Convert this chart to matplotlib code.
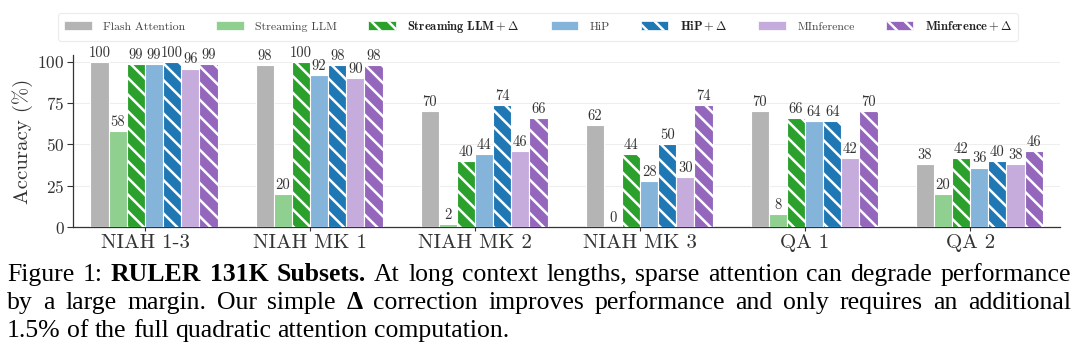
import numpy as np
import matplotlib
matplotlib.use('Agg')
from matplotlib import pyplot as plt
from matplotlib.patches import Patch

plt.rcParams['font.family'] = 'serif'
plt.rcParams['font.serif'] = ['cmr10']
plt.rcParams['mathtext.fontset'] = 'cm'
plt.rcParams['axes.formatter.use_mathtext'] = True
plt.rcParams['hatch.linewidth'] = 1.8

# ---------------- data (RULER 131K subsets) ----------------
subsets = ['NIAH 1-3', 'NIAH MK 1', 'NIAH MK 2', 'NIAH MK 3', 'QA 1', 'QA 2']
flash            = [100, 98, 70, 62, 70, 38]
streaming        = [58, 20, 2, 0, 8, 20]
streaming_delta  = [99, 100, 40, 44, 66, 42]
hip              = [99, 92, 44, 28, 64, 36]
hip_delta        = [100, 98, 74, 50, 64, 40]
minference       = [96, 90, 46, 30, 42, 38]
minference_delta = [99, 98, 66, 74, 70, 46]

methods = ['Flash Attention', 'Streaming LLM', r'$\mathbf{Streaming\ LLM + \Delta}$',
           'HiP', r'$\mathbf{HiP + \Delta}$', 'MInference', r'$\mathbf{Minference + \Delta}$']
series = [flash, streaming, streaming_delta, hip, hip_delta, minference, minference_delta]
colors = ['#b4b4b4', '#8fcf8f', '#2ca02c', '#85b4da', '#1f77b4', '#c6acdd', '#9467bd']
hatches = ['', '', '\\\\', '', '\\\\', '', '\\\\']

fig = plt.figure(figsize=(10.8, 3.62), dpi=100)
ax = fig.add_axes([73/1080, 1-227/362, (1060-73)/1080, (227-55)/362])

x = np.arange(len(subsets))
w = 0.11
for i, (vals, c, h) in enumerate(zip(series, colors, hatches)):
    bars = ax.bar(x + (i - 3) * w, vals, w, align='edge', color=c, hatch=h,
                  edgecolor='white', linewidth=0.8, zorder=3)
    ax.bar_label(bars, labels=[str(v) for v in vals], padding=1.5,
                 fontsize=10.5, color='#333333', zorder=4)

ax.set_xlim(-0.436, 5.545)
ax.set_ylim(0, 104.2)
ax.set_yticks([0, 25, 50, 75, 100])
ax.set_xticks(x)
ax.set_xticklabels(subsets, fontsize=15, color='#222222')
ax.tick_params(axis='y', labelsize=12.5, colors='#333333', length=4, width=0.8, pad=2)
ax.tick_params(axis='x', length=3, width=0.8, colors='#333333', pad=2)
ax.set_ylabel('Accuracy (%)', fontsize=15, color='#333333', labelpad=3)
ax.grid(axis='y', color='#eeeeee', linewidth=0.8, zorder=0)
for s in ['top', 'right']:
    ax.spines[s].set_visible(False)
for s in ['left', 'bottom']:
    ax.spines[s].set_color('#333333')
    ax.spines[s].set_linewidth(0.9)

handles = [Patch(facecolor=c, hatch=h, edgecolor='white', linewidth=0.5)
           for c, h in zip(colors, hatches)]
leg = fig.legend(handles, methods, loc='upper center', ncol=7,
                 bbox_to_anchor=(538/1080, 1 - 7/362), fontsize=9,
                 frameon=True, edgecolor='#e6e6e6', fancybox=True,
                 handlelength=2.2, handleheight=0.65, columnspacing=2.5,
                 handletextpad=0.9, borderpad=0.45)
leg.get_frame().set_linewidth(0.8)
for t in leg.get_texts():
    t.set_color('#222222')
    if '$' not in t.get_text():
        t.set_fontsize(8.5)
        t.set_color('#444444')

# ---------------- caption ----------------
cap_lines = [
    [('Figure', 'normal'), ('1:', 'normal'), ('RULER', 'bold'), ('131K', 'bold'),
     ('Subsets.', 'bold'), ('At', 'normal'), ('long', 'normal'), ('context', 'normal'),
     ('lengths,', 'normal'), ('sparse', 'normal'), ('attention', 'normal'), ('can', 'normal'),
     ('degrade', 'normal'), ('performance', 'normal')],
    [('by', 'normal'), ('a', 'normal'), ('large', 'normal'), ('margin.', 'normal'),
     ('Our', 'normal'), ('simple', 'normal'), ('\u0394', 'bold'), ('correction', 'normal'),
     ('improves', 'normal'), ('performance', 'normal'), ('and', 'normal'), ('only', 'normal'),
     ('requires', 'normal'), ('an', 'normal'), ('additional', 'normal')],
    [('1.5%', 'normal'), ('of', 'normal'), ('the', 'normal'), ('full', 'normal'),
     ('quadratic', 'normal'), ('attention', 'normal'), ('computation.', 'normal')],
]
cap_fs = 18.5
x0, x1 = 7, 1071
baselines = [281, 309, 337]
r = fig.canvas.get_renderer()
for li, (tokens, yb) in enumerate(zip(cap_lines, baselines)):
    texts = [fig.text(0, 1 - yb/362, wd, fontsize=cap_fs, family='Liberation Serif',
                      weight=b, va='baseline', ha='left', color='black')
             for wd, b in tokens]
    widths = [t.get_window_extent(r).width for t in texts]
    if li < len(cap_lines) - 1:
        gap = (x1 - x0 - sum(widths)) / (len(tokens) - 1)
    else:
        gap = cap_fs * 0.25 * 100 / 72
    xp = x0
    for t, wd in zip(texts, widths):
        t.set_x(xp / 1080)
        xp += wd + gap

fig.savefig('out.png', dpi=100)
